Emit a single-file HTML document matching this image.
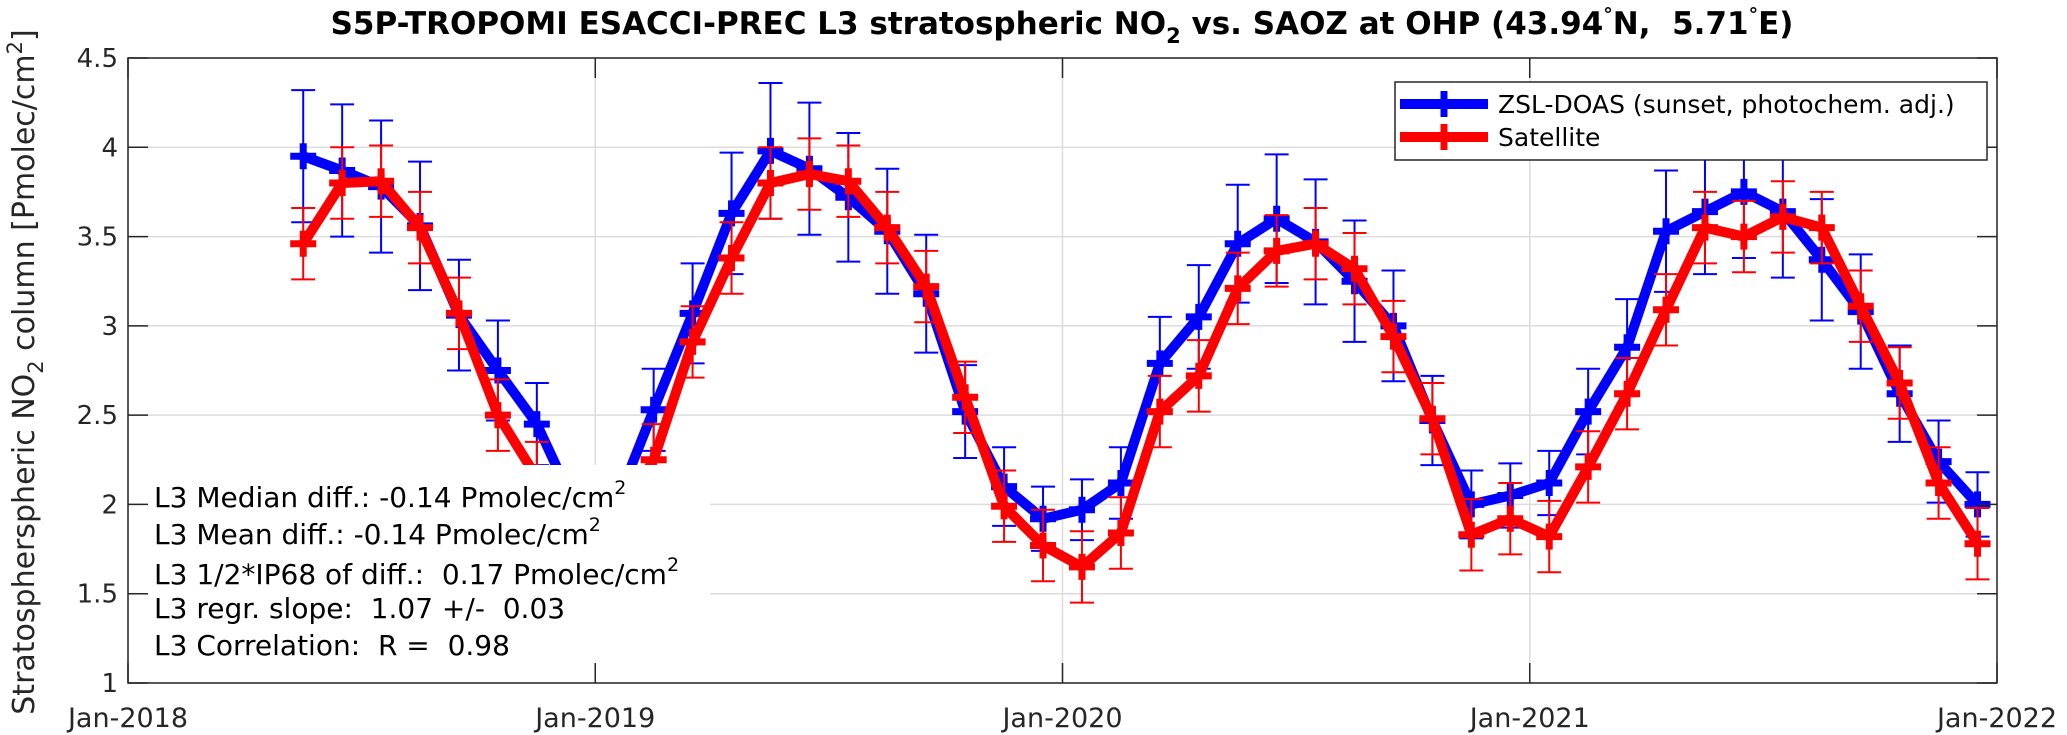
<!DOCTYPE html>
<html><head><meta charset="utf-8"><style>
body{margin:0;background:#fff;}
svg{display:block;font-family:"DejaVu Sans","Liberation Sans",sans-serif;}
text{white-space:pre;}
</style></head><body>
<svg id="chart" width="2067" height="735" viewBox="0 0 2067 735" xmlns="http://www.w3.org/2000/svg"></svg>
<script>
const months = ["2018-05","2018-06","2018-07","2018-08","2018-09","2018-10","2018-11","2018-12","2019-01","2019-02","2019-03","2019-04","2019-05","2019-06","2019-07","2019-08","2019-09","2019-10","2019-11","2019-12","2020-01","2020-02","2020-03","2020-04","2020-05","2020-06","2020-07","2020-08","2020-09","2020-10","2020-11","2020-12","2021-01","2021-02","2021-03","2021-04","2021-05","2021-06","2021-07","2021-08","2021-09","2021-10","2021-11","2021-12"];
const zslValues = [3.95,3.87,3.78,3.56,3.06,2.75,2.45,1.98,1.98,2.53,3.07,3.63,3.98,3.88,3.72,3.53,3.18,2.52,2.10,1.92,1.97,2.12,2.79,3.05,3.46,3.60,3.47,3.25,3.00,2.47,2.00,2.05,2.12,2.52,2.88,3.53,3.64,3.75,3.64,3.37,3.08,2.62,2.24,2.00];
const zslErrors = [0.37,0.37,0.37,0.36,0.31,0.28,0.23,0.2,0.2,0.23,0.28,0.34,0.38,0.37,0.36,0.35,0.33,0.26,0.22,0.18,0.17,0.2,0.26,0.29,0.33,0.36,0.35,0.34,0.31,0.25,0.19,0.18,0.18,0.24,0.27,0.34,0.35,0.37,0.37,0.34,0.32,0.27,0.23,0.18];
const satValues = [3.46,3.80,3.81,3.55,3.07,2.50,2.15,1.90,1.90,2.25,2.91,3.38,3.80,3.85,3.81,3.55,3.22,2.60,1.99,1.77,1.65,1.84,2.52,2.72,3.21,3.42,3.46,3.32,2.94,2.48,1.83,1.92,1.82,2.21,2.62,3.09,3.55,3.50,3.61,3.55,3.11,2.68,2.12,1.78];
const satErrors = [0.2,0.2,0.2,0.2,0.2,0.2,0.2,0.2,0.2,0.2,0.2,0.2,0.2,0.2,0.2,0.2,0.2,0.2,0.2,0.2,0.2,0.2,0.2,0.2,0.2,0.2,0.2,0.2,0.2,0.2,0.2,0.2,0.2,0.2,0.2,0.2,0.2,0.2,0.2,0.2,0.2,0.2,0.2,0.2];
const yTicks = [1,1.5,2,2.5,3,3.5,4,4.5];
const yTickLabels = ["1","1.5","2","2.5","3","3.5","4","4.5"];
const xTickMonths = [0,12,24,36,48];
const xTickLabels = ["Jan-2018","Jan-2019","Jan-2020","Jan-2021","Jan-2022"];

const NS="http://www.w3.org/2000/svg";
const svg=document.getElementById('chart');
const L=128,R=1997,T=58,B=683;
const yMin=1,yMax=4.5,xMax=48;
function xs(m){return L+(m/xMax)*(R-L);}
function ys(v){return B-(v-yMin)/(yMax-yMin)*(B-T);}
function monthIdx(s){const p=s.split('-');return (+p[0]-2018)*12+(+p[1]-1)+0.5;}
function mk(tag,attrs,parent){const e=document.createElementNS(NS,tag);for(const k in attrs)e.setAttribute(k,attrs[k]);(parent||svg).appendChild(e);return e;}

// grid
const grid=mk('g',{});


yTicks.forEach(v=>{const l=mk('line',{x1:L,x2:R,y1:ys(v),y2:ys(v),stroke:'#dcdcdc','stroke-width':1.5},grid);

});
xTickMonths.forEach(m=>{const l=mk('line',{x1:xs(m),x2:xs(m),y1:T,y2:B,stroke:'#dcdcdc','stroke-width':1.5},grid);

});

function series(vals,errs,color,name){
  const g=mk('g',{});
  
  
  vals.forEach((v,i)=>{const x=xs(monthIdx(months[i]));
    const e=mk('path',{d:`M${x},${ys(v-errs[i])}V${ys(v+errs[i])}M${x-12},${ys(v-errs[i])}h24M${x-12},${ys(v+errs[i])}h24`,stroke:color,'stroke-width':2,fill:'none'},g);
    
    });
  const pts=vals.map((v,i)=>xs(monthIdx(months[i]))+','+ys(v)).join(' ');
  const pl=mk('polyline',{points:pts,stroke:color,'stroke-width':10,fill:'none','stroke-linejoin':'round'},g);
  
  
  vals.forEach((v,i)=>{const x=xs(monthIdx(months[i])),y=ys(v);
    const p=mk('path',{d:`M${x-13},${y}h26M${x},${y-13}v26`,stroke:color,'stroke-width':7},g);
    
    });
}
series(zslValues,zslErrors,'#0000ff','zsl-doas');
series(satValues,satErrors,'#ff0000','satellite');

// stats box
const sb=mk('g',{});


mk('rect',{x:142,y:465,width:568,height:207,fill:'#fff'},sb);
const lines=[["L3 Median diff.: -0.14 Pmolec/cm",507],["L3 Mean diff.: -0.14 Pmolec/cm",544],["L3 1/2*IP68 of diff.:  0.17 Pmolec/cm",584],["L3 regr. slope:  1.07 +/-  0.03",618],["L3 Correlation:  R =  0.98",655]];
lines.forEach((ln,i)=>{const t=mk('text',{x:154,y:ln[1],'font-size':28,fill:'#000'},sb);
  
  
  t.textContent=ln[0];
  if(i<3){const s=mk('tspan',{'font-size':19,dy:-13},t);s.textContent='2';}
});

// axes box
const ax=mk('g',{});


mk('rect',{x:L,y:T,width:R-L,height:B-T,fill:'none',stroke:'#262626','stroke-width':1.5},ax);
yTicks.forEach((v,i)=>{const y=ys(v);
  mk('line',{x1:L,x2:L+20,y1:y,y2:y,stroke:'#262626','stroke-width':1.5},ax);
  mk('line',{x1:R-20,x2:R,y1:y,y2:y,stroke:'#262626','stroke-width':1.5},ax);
  const t=mk('text',{x:L-10,y:y+9,'font-size':26,'text-anchor':'end',fill:'#262626'},ax);
  
  
  t.textContent=yTickLabels[i];});
xTickMonths.forEach((m,i)=>{const x=xs(m);
  mk('line',{x1:x,x2:x,y1:B,y2:B-20,stroke:'#262626','stroke-width':1.5},ax);
  mk('line',{x1:x,x2:x,y1:T,y2:T+20,stroke:'#262626','stroke-width':1.5},ax);
  const t=mk('text',{x:x,y:727,'font-size':27,'text-anchor':'middle',fill:'#262626'},ax);
  
  
  t.textContent=xTickLabels[i];});

// y axis title
const yt=mk('text',{x:0,y:0,'font-size':30,'text-anchor':'middle',fill:'#262626',transform:'translate(34,372) rotate(-90)'});


yt.innerHTML='Stratospherspheric NO<tspan font-size="21" dy="9">2</tspan><tspan dy="-9"> column [Pmolec/cm</tspan><tspan font-size="21" dy="-12">2</tspan><tspan dy="12">]</tspan>';

// title
const tt=mk('text',{x:1062,y:34,'font-size':31,'font-weight':'bold','text-anchor':'middle',fill:'#000'});


tt.innerHTML='S5P-TROPOMI ESACCI-PREC L3 stratospheric NO<tspan font-size="21" dy="9">2</tspan><tspan dy="-9"> vs. SAOZ at OHP (43.94</tspan><tspan font-size="19" dy="-13">°</tspan><tspan dy="13">N,  5.71</tspan><tspan font-size="19" dy="-13">°</tspan><tspan dy="13">E)</tspan>';

// legend
const lg=mk('g',{});


mk('rect',{x:1395,y:82,width:592,height:78,fill:'#fff',stroke:'#262626','stroke-width':1.5},lg);
[['#0000ff','ZSL-DOAS (sunset, photochem. adj.)',104,'legend-entry-zsl'],['#ff0000','Satellite',137,'legend-entry-satellite']].forEach(e=>{
  const g=mk('g',{},lg);
  
  
  mk('line',{x1:1400,x2:1488,y1:e[2],y2:e[2],stroke:e[0],'stroke-width':10},g);
  mk('path',{d:`M1431,${e[2]}h26M1444,${e[2]-13}v26`,stroke:e[0],'stroke-width':7},g);
  const t=mk('text',{x:1498,y:e[2]+9,'font-size':25,fill:'#000'},g);
  t.textContent=e[1];});
</script>
</body></html>
